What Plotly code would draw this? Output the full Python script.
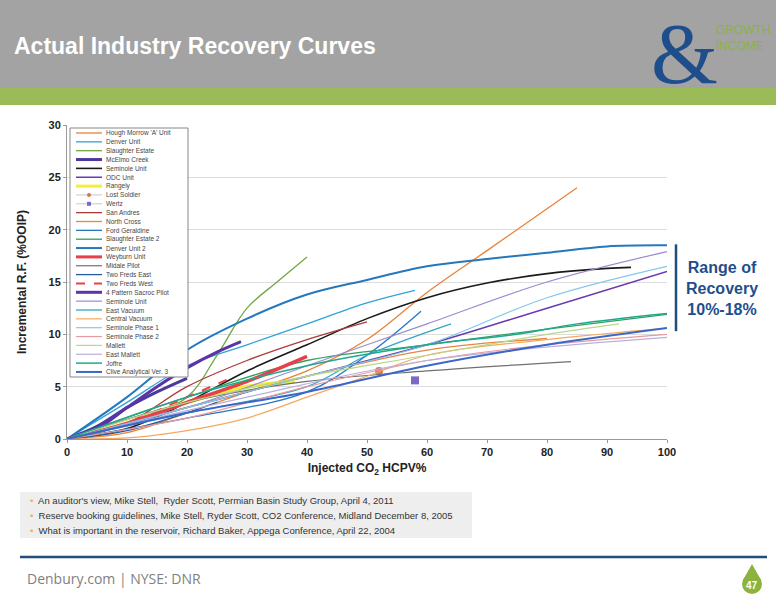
import plotly.graph_objects as go

# series
names = ["Hough Morrow 'A' Unit", "Denver Unit", "Slaughter Estate", "McElmo Creek",
         "Seminole Unit", "ODC Unit", "Rangely", "Lost Soldier", "Wertz", "San Andres",
         "North Cross", "Ford Geraldine", "Slaughter Estate 2", "Denver Unit 2",
         "Weyburn Unit", "Midale Pilot", "Two Freds East", "Two Freds West",
         "4 Pattern Sacroc Pilot", "Seminole Unit", "East Vacuum", "Central Vacuum",
         "Seminole Phase 1", "Seminole Phase 2", "Mallett", "East Mallett", "Joffre",
         "Clive Analytical Ver. 3"]
colors = ["#E8823A", "#2FA3D9", "#70A845", "#4B3A9A", "#1A1A1A", "#6A3AB0", "#F2EE3A",
          "#E07050", "#7B68C8", "#B03A3A", "#E8853F", "#2577C4", "#2FA060", "#2378BE",
          "#E8404A", "#707070", "#235C9A", "#E8404A", "#5A34A8", "#9C8AD0", "#33A6C6",
          "#F5A860", "#82C8EA", "#E89AA0", "#B8D88A", "#B8B0DC", "#1EA88E", "#3C66C8"]
widths = [1.3, 1.3, 1.3, 3, 1.6, 1.5, 4, 1, 1, 1.3, 1.3, 1.3, 1.3, 2, 3.5, 1.2, 1.3, 2,
          3, 1.2, 1.3, 1.2, 1.2, 1.2, 1.2, 1.2, 1.5, 2]
xs = [
    [0, 10, 20, 30, 40, 50, 60, 70, 85],
    [0, 10, 20, 30, 40, 50, 58],
    [0, 10, 20, 25, 30, 35, 40],
    [0, 5, 10, 15, 20],
    [0, 10, 20, 30, 40, 50, 60, 70, 80, 90, 94],
    [0, 20, 40, 60, 80, 100],
    [0, 10, 20, 30, 38],
    [52],
    [58],
    [0, 10, 20, 30, 40, 50],
    [0, 20, 40, 60, 80],
    [0, 20, 40, 50, 59],
    [0, 20, 40, 60, 80, 100],
    [0, 10, 20, 30, 40, 50, 60, 70, 80, 90, 100],
    [0, 10, 20, 30, 40],
    [0, 20, 40, 60, 84],
    [0, 10, 20, 25],
    [0, 10, 20, 28],
    [0, 5, 10, 15, 20, 25, 29],
    [0, 20, 40, 60, 80, 100],
    [0, 20, 40, 50, 64],
    [0, 10, 20, 30, 40, 50, 60, 80, 100],
    [0, 20, 40, 60, 80, 100],
    [0, 20, 40, 60, 80, 100],
    [0, 20, 40, 60, 80, 92],
    [0, 30, 60, 100],
    [0, 20, 40, 60, 75, 85, 100],
    [0, 20, 40, 60, 80, 100],
]
ys = [
    [0, 0.6, 2.5, 4.5, 6.5, 9.5, 14, 18, 24],
    [0, 3.5, 7, 9, 11, 13, 14.2],
    [0, 1.5, 4, 8, 12.5, 15, 17.4],
    [0, 1.2, 3, 4.5, 5.8],
    [0, 1, 3.5, 6.5, 9, 11.5, 13.5, 14.9, 15.8, 16.3, 16.4],
    [0, 3, 6, 9, 12.5, 16],
    [0, 1.5, 3.5, 5, 5.5],
    [6.5],
    [5.6],
    [0, 1.5, 5, 7.5, 9.5, 11.2],
    [0, 3, 6, 8.5, 9.6],
    [0, 2, 4.5, 8, 12.2],
    [0, 4, 7.5, 9, 10.5, 11.9],
    [0, 4, 8.5, 11.5, 13.8, 15.2, 16.5, 17.2, 17.8, 18.4, 18.5],
    [0, 1.5, 3.5, 5.5, 7.9],
    [0, 3.5, 5.5, 6.5, 7.4],
    [0, 0.8, 2.5, 3.5],
    [0, 1.5, 4, 6],
    [0, 1, 3, 5, 6.8, 8.3, 9.3],
    [0, 3, 7, 11, 15, 17.9],
    [0, 2.5, 5, 8, 11],
    [0, 0.1, 0.8, 2, 4, 6, 8, 9.5, 10.6],
    [0, 3, 6, 9, 13.5, 16.5],
    [0, 2, 5, 7.5, 9, 10],
    [0, 3.5, 6, 8, 10, 11],
    [0, 4, 7.5, 9.7],
    [0, 4, 7, 9, 10, 11, 12],
    [0, 2.5, 4.5, 7, 9, 10.6],
]
refs = ["An auditor's view, Mike Stell,  Ryder Scott, Permian Basin Study Group, April 4, 2011",
        "Reserve booking guidelines, Mike Stell, Ryder Scott, CO2 Conference, Midland December 8, 2005",
        "What is important in the reservoir, Richard Baker, Appega Conference, April 22, 2004"]

L, T, PW, PH = 67, 125, 600, 314
def px(v): return (v - L) / PW
def py(v): return (T + PH - v) / PH

fig = go.Figure()
for i, n in enumerate(names):
    if len(xs[i]) == 1:
        sym = "circle" if n == "Lost Soldier" else "square"
        fig.add_trace(go.Scatter(x=xs[i], y=ys[i], name=n, mode="markers",
                                 marker=dict(color=colors[i], size=8, symbol=sym)))
    else:
        fig.add_trace(go.Scatter(x=xs[i], y=ys[i], name=n, mode="lines",
                                 line=dict(color=colors[i], width=widths[i], shape="spline",
                                           dash="dash" if n == "Two Freds West" else "solid")))

shapes = [
    dict(type="rect", xref="paper", yref="paper", x0=px(0), x1=px(776), y0=py(88), y1=py(0),
         fillcolor="#A3A3A3", line_width=0, layer="below"),
    dict(type="rect", xref="paper", yref="paper", x0=px(0), x1=px(776), y0=py(105), y1=py(88),
         fillcolor="#9BBB59", line_width=0, layer="below"),
    dict(type="rect", xref="paper", yref="paper", x0=px(20), x1=px(472), y0=py(538), y1=py(492),
         fillcolor="#EEEEEE", line_width=0, layer="below"),
    dict(type="line", xref="paper", yref="paper", x0=px(20), x1=px(767), y0=py(557), y1=py(557),
         line=dict(color="#1F4E79", width=2.5)),
    dict(type="line", xref="paper", yref="y", x0=px(676), x1=px(676), y0=10.3, y1=18.6,
         line=dict(color="#1F4E79", width=2.5)),
    dict(type="circle", xref="paper", yref="paper", x0=px(742), x1=px(762), y0=py(594), y1=py(574),
         fillcolor="#8DB33F", line_width=0),
    dict(type="path", xref="paper", yref="paper",
         path=f"M {px(743)},{py(580)} L {px(752)},{py(564)} L {px(761)},{py(580)} Z",
         fillcolor="#8DB33F", line_width=0),
    # legend box
    dict(type="rect", xref="paper", yref="paper", x0=px(70), x1=px(188), y0=py(377), y1=py(128),
         fillcolor="white", line=dict(color="#888", width=1)),
]

def note(text, x, y, size, color, family="Liberation Sans", xanchor="center", **kw):
    return dict(text=text, x=px(x), y=py(y), xref="paper", yref="paper", xanchor=xanchor,
                yanchor="middle", showarrow=False,
                font=dict(size=size, color=color, family=family), **kw)

ann = [
    note("<b>Actual Industry Recovery Curves</b>", 12, 46, 23, "white", xanchor="left"),
    note("&", 684, 54, 86, "#1F4E8C", family="Liberation Serif"),
    note("GROWTH<br>INCOME", 714, 38, 12, "#8DB33F", xanchor="left", align="left"),
    note("<b>Range of<br>Recovery<br>10%-18%</b>", 722, 288, 16, "#1F4E8C"),
    note("Denbury.com | NYSE: DNR", 25, 578, 14, "#7F7F7F", family="Open Sans", xanchor="left"),
    note("<b>47</b>", 752, 585, 10, "white"),
    note("<b>Incremental R.F. (%OOIP)</b>", 22, 282, 12, "#222", textangle=-90),
]
for k, r in enumerate(refs):
    ann.append(note("<span style='color:#F5A860'>•</span>  " + r, 28, 500 + 15 * k, 9.5,
                    "#333", xanchor="left"))

# hand-built legend (Plotly's own legend rows cannot be packed this tightly)
for i, n in enumerate(names):
    yr = 133 + i * 8.85
    yy = py(yr)
    if len(xs[i]) == 1:
        shapes.append(dict(type="line", xref="paper", yref="paper", x0=px(76), x1=px(102),
                           y0=yy, y1=yy, line=dict(color="#BBBBBB", width=0.8)))
        shapes.append(dict(type="circle" if n == "Lost Soldier" else "rect",
                           xref="paper", yref="paper", x0=px(87), x1=px(91),
                           y0=yy - 2 / PH, y1=yy + 2 / PH, fillcolor=colors[i], line_width=0))
    else:
        shapes.append(dict(type="line", xref="paper", yref="paper", x0=px(76), x1=px(102),
                           y0=yy, y1=yy,
                           line=dict(color=colors[i], width=min(widths[i], 3),
                                     dash="dash" if n == "Two Freds West" else "solid")))
    ann.append(note(n, 104, yr, 6.5, "#444", xanchor="left"))

for yv in (10.3, 18.6):
    fig.add_trace(go.Scatter(x=[101.5], y=[yv], mode="markers", showlegend=False,
                             cliponaxis=False, marker=dict(color="#1F4E79", size=6)))

fig.update_layout(
    width=776, height=600, margin=dict(l=L, r=776 - L - PW, t=T, b=600 - T - PH),
    paper_bgcolor="white", plot_bgcolor="white", shapes=shapes, annotations=ann,
    font=dict(family="Liberation Sans", color="#222"), showlegend=False,
    xaxis=dict(range=[0, 100], dtick=10, showgrid=False, showline=True, linecolor="#999",
               ticks="outside", ticklen=3, tickcolor="#999", automargin=False,
               tickprefix="<b>", ticksuffix="</b>",
               tickfont=dict(size=11, family="Liberation Sans", color="#222"),
               title=dict(text="<b>Injected CO<sub>2</sub> HCPV%</b>", standoff=6,
                          font=dict(size=12, family="Liberation Sans"))),
    yaxis=dict(range=[0, 30], dtick=5, gridcolor="#DDDDDD", showline=True, linecolor="#999",
               ticks="outside", ticklen=3, tickcolor="#999", zeroline=False, automargin=False,
               tickprefix="<b>", ticksuffix="</b>",
               tickfont=dict(size=11, family="Liberation Sans", color="#222")),
)
fig.write_html("out.html", config={"displayModeBar": False},
               post_script="document.body.style.margin='0';")
